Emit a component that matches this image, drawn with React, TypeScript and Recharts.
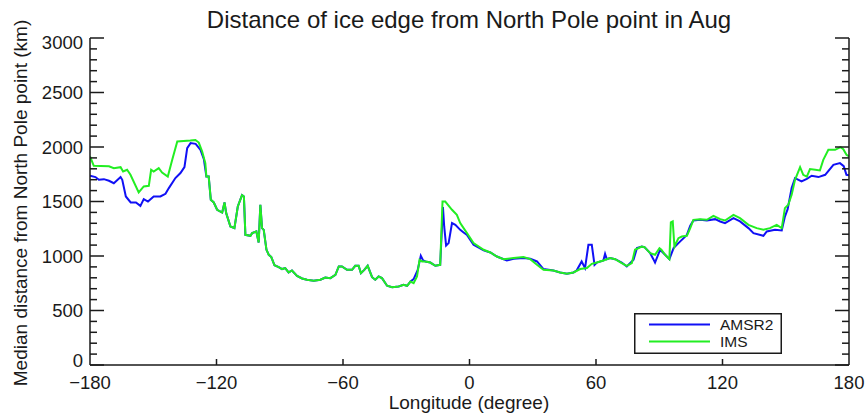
import { Legend, Line, LineChart, XAxis, YAxis } from "recharts";

// Median distance (km) of the August ice edge from the North Pole, by longitude.
const imsLon = [
  -180, -178.2, -175, -171, -168.7, -165.5, -164.3, -162.4, -160.8, -156.9, -154.5, -152.1, -151, -149.8,
  -147.4, -145.8, -143.1, -141, -138.6, -132.4, -130, -128.4, -126.8, -125.3,
  -124.8, -123.7, -122.7, -121.3, -119.7, -117.3, -116.2, -115.4, -114.5, -113.4, -111.5, -109.9, -107.9,
  -107, -106.3, -103.9, -103.1, -101.1, -100, -99.2, -98.4, -97.6, -96.3, -95.2, -94, -92.5, -90.5, -88.9,
  -87.4, -85.8, -84.2, -81.8, -79.4, -77.1, -73.9, -70.7, -68.4, -66, -63.6, -62, -60.5, -58.1, -55.7,
  -54.2, -52.6, -51.5, -49.9, -48.3, -46.2, -44.7, -43.1, -41.5, -39.1, -36.7, -33.6, -31.3, -29.6, -28,
  -26.5, -24.9, -23.7, -22.5, -20.9, -18.6, -16.2, -13.9, -12.8, -11.5, -8.3, -6, -4.4, -1.2, 1.9, 6.7,
  9.9, 13, 16.1, 20.9, 25.6, 28.8, 32, 35.1, 39.8, 43, 46.2, 49.3, 52.5, 55.7, 58, 60.4, 63.5, 66.7, 69.1,
  72.2, 74.6, 77, 78.5, 81.7, 83, 85.7, 88, 90.1, 91, 92.8, 94.8, 95.5, 96.4, 97.2, 99.1, 100.7, 103.1,
  104.7, 106.2, 109.4, 112.6, 115.7, 118.9, 121.2, 125.2, 128.3, 132.3, 136.2, 139.4, 142.5, 145.7, 148.1,
  149.6, 151.2, 152.8, 154.4, 156.8, 158.3, 160, 161.5, 164, 166.2, 167.8, 170.2, 173.4, 176, 177.3, 178.8, 180,
];
const imsKm = [
  1913, 1827, 1825, 1823, 1806, 1815, 1775, 1791, 1745, 1583, 1638, 1644, 1791, 1775,
  1806, 1766, 1729, 1882, 2050, 2060, 2065, 2041, 1958, 1852,
  1729, 1729, 1515, 1491, 1424, 1399, 1491, 1393, 1338, 1271, 1256, 1454, 1559,
  1545, 1194, 1185, 1210, 1225, 1124, 1470, 1256, 1240, 1057, 1011, 990, 915, 898, 880,
  889, 849, 867, 818, 794, 782, 772, 782, 803, 797, 827, 904, 904, 873, 873,
  910, 910, 843, 873, 910, 806, 782, 812, 797, 727, 714, 720, 735, 727, 766,
  751, 812, 965, 950, 950, 940, 910, 919, 1500, 1500, 1424, 1378, 1302, 1210, 1118, 1057,
  1032, 995, 971, 981, 990, 971, 919, 873, 867, 849, 837, 849, 880, 889, 928, 940, 959, 981, 971,
  935, 910, 935, 1057, 1087, 1081, 1026, 1011, 1072, 1057, 1011, 971, 1308, 1317, 1087, 1164, 1179, 1185,
  1256, 1332, 1338, 1332, 1369, 1338, 1326, 1378, 1347, 1286, 1256, 1240, 1256, 1286, 1256,
  1439, 1470, 1561, 1699, 1815, 1745, 1729, 1797, 1791, 1785, 1882, 1974, 1974, 1999, 1980, 1928, 1915,
];

const amsr2Lon = [
  -180, -177.4, -175.8, -173.4, -171, -168.7, -165.5, -164.7, -163, -160.7, -158.2, -156.1, -154.5, -152.5,
  -149.8, -146.6, -144.2, -142.6, -139.5, -137.1, -135.2, -133.9, -132.3, -129.9, -127.6, -126,
  -124.8, -123.7, -122.7, -121.3, -119.7, -117.3, -116.2, -115.4, -114.5, -113.4, -111.5, -109.9, -107.9,
  -107, -106.3, -103.9, -103.1, -101.1, -100, -99.2, -98.4, -97.6, -96.3, -95.2, -94, -92.5, -90.5, -88.9,
  -87.4, -85.8, -84.2, -81.8, -79.4, -77.1, -73.9, -70.7, -68.4, -66, -63.6, -62, -60.5, -58.1, -55.7,
  -54.2, -52.6, -51.5, -49.9, -48.3, -46.2, -44.7, -43.1, -41.5, -39.1, -36.7, -33.6, -31.3, -29.6, -28,
  -26.5, -24.6, -23.1, -22, -20.9, -18.6, -16.2, -13.9, -12.6, -12, -11.1, -9.9, -8.3, -6.7, -4.4, -2.8,
  -1.2, 1.9, 6.7, 9.9, 13, 17.7, 20.9, 25.6, 28.8, 32, 35.1, 39.8, 43, 46.2, 49.3, 50.8, 53.2, 54.8, 56.4,
  58, 59.3, 60.4, 63.5, 64.3, 65.1, 66.7, 69.1, 72.2, 74.6, 77.8, 79.4, 81.7, 83, 85.7, 87.2, 88, 90.4, 92.8,
  94.8, 96.8, 99.1, 103.1, 104.7, 106.2, 109.4, 112.6, 116.5, 118.9, 121.2, 125.2, 128.3, 132.3, 134.7,
  139.4, 141, 144.9, 148.1, 149.6, 150.9, 152.8, 154.4, 157.5, 160, 162.3, 165.5, 168.7, 172.6, 175.7,
  177.5, 178.8, 180,
];
const amsr2Km = [
  1736, 1724, 1699, 1705, 1690, 1668, 1724, 1699, 1546, 1491, 1491, 1460, 1522, 1500,
  1546, 1546, 1571, 1623, 1715, 1761, 1815, 1990, 2036, 2029, 1974, 1889,
  1729, 1729, 1515, 1491, 1424, 1399, 1491, 1393, 1338, 1271, 1256, 1454, 1559,
  1545, 1194, 1185, 1210, 1225, 1124, 1470, 1256, 1240, 1057, 1011, 990, 915, 898, 880,
  889, 849, 867, 818, 794, 782, 772, 782, 803, 797, 827, 904, 904, 873, 873,
  910, 910, 843, 873, 910, 806, 782, 812, 797, 727, 714, 720, 735, 727, 766,
  788, 870, 1002, 960, 950, 940, 910, 919, 1449, 1271, 1095, 1118, 1302, 1286, 1240, 1215,
  1194, 1103, 1051, 1032, 995, 959, 975, 981, 975, 950, 880, 867, 849, 837, 849, 867, 950, 889, 1103,
  1103, 919, 940, 959, 1020, 971, 981, 971, 940, 904, 965, 1072, 1087, 1081, 1026, 971, 940, 1057, 1011,
  971, 1072, 1118, 1194, 1277, 1326, 1332, 1326, 1338, 1317, 1302, 1347, 1317, 1256, 1210,
  1185, 1225, 1240, 1234, 1362, 1430, 1623, 1715, 1684, 1708, 1736, 1724, 1745, 1837, 1852,
  1824, 1745, 1740,
];

const lonTicks = [-180, -120, -60, 0, 60, 120, 180];
const kmTicks = [
  0, 100, 200, 300, 400, 500, 600, 700, 800, 900, 1000, 1100, 1200, 1300, 1400, 1500, 1600, 1700, 1800,
  1900, 2000, 2100, 2200, 2300, 2400, 2500, 2600, 2700, 2800, 2900, 3000,
];

const amsr2Data = amsr2Lon.map((lon, i) => ({ lon, km: amsr2Km[i] }));
const imsData = imsLon.map((lon, i) => ({ lon, km: imsKm[i] }));

const INK = "#1a1a1a";
const FONT = '"Liberation Sans", Arial, sans-serif';

const fmtLon = (v: number) => (v < 0 ? `\u2212${-v}` : `${v}`);

function LeftTick({ x, y, payload }: any) {
  const v = payload.value;
  const major = v % 500 === 0;
  const dy = v === 0 ? -5 : v === 3000 ? 4 : 0;
  return (
    <g>
      <line x1={x} x2={x + (major ? 14 : 7)} y1={y} y2={y} stroke={INK} strokeWidth={1.5} />
      {major && (
        <text x={x - 7} y={y + dy} textAnchor="end" dominantBaseline="central" fontSize={18.5} fill={INK} fontFamily={FONT}>
          {v}
        </text>
      )}
    </g>
  );
}

function RightTick({ x, y, payload }: any) {
  const major = payload.value % 500 === 0;
  return <line x1={x} x2={x - (major ? 14 : 7)} y1={y} y2={y} stroke={INK} strokeWidth={1.5} />;
}

function BottomTick({ x, y, payload }: any) {
  const v = payload.value;
  const edge = v === -180 || v === 180;
  return (
    <g>
      {!edge && <line x1={x} x2={x} y1={y} y2={y - 6} stroke={INK} strokeWidth={1.5} />}
      <text x={x} y={y + 24} textAnchor="middle" fontSize={18.5} fill={INK} fontFamily={FONT}>
        {fmtLon(v)}
      </text>
    </g>
  );
}

function TopTick({ x, y, payload }: any) {
  const v = payload.value;
  if (v === -180 || v === 180) return <g />;
  return <line x1={x} x2={x} y1={y} y2={y + 6} stroke={INK} strokeWidth={1.5} />;
}

function LegendBox({ payload }: any) {
  return (
    <svg width={148} height={41} style={{ display: "block" }}>
      <rect x={0.75} y={0.75} width={146.5} height={39.5} fill="#fff" stroke={INK} strokeWidth={1.5} />
      {(payload || []).map((p: any, i: number) => (
        <g key={p.value}>
          <line x1={15} x2={76} y1={11.5 + i * 17} y2={11.5 + i * 17} stroke={p.color} strokeWidth={2} />
          <text x={86} y={16.5 + i * 17} fontSize={15.5} fill={INK} fontFamily={FONT}>
            {p.value}
          </text>
        </g>
      ))}
    </svg>
  );
}

export default function App() {
  return (
    <div style={{ position: "absolute", left: 0, top: 0, width: 865, height: 414, background: "#fff", fontFamily: FONT }}>
      <LineChart width={865} height={414} margin={{ top: 38, right: 0, bottom: 0, left: 0 }}>
        <XAxis
          xAxisId="b"
          type="number"
          dataKey="lon"
          domain={[-180, 180]}
          ticks={lonTicks}
          interval={0}
          height={49}
          tickSize={0}
          tickMargin={0}
          tickLine={false}
          tick={<BottomTick />}
          axisLine={{ stroke: INK, strokeWidth: 1.5 }}
          allowDataOverflow
        />
        <XAxis
          xAxisId="t"
          orientation="top"
          type="number"
          dataKey="lon"
          domain={[-180, 180]}
          ticks={lonTicks}
          interval={0}
          height={0}
          tickSize={0}
          tickMargin={0}
          tickLine={false}
          tick={<TopTick />}
          axisLine={{ stroke: INK, strokeWidth: 1.5 }}
          allowDataOverflow
        />
        <YAxis
          yAxisId="l"
          type="number"
          domain={[0, 3000]}
          ticks={kmTicks}
          interval={0}
          width={90}
          tickSize={0}
          tickMargin={0}
          tickLine={false}
          tick={<LeftTick />}
          axisLine={{ stroke: INK, strokeWidth: 1.5 }}
          allowDataOverflow
        />
        <YAxis
          yAxisId="r"
          orientation="right"
          type="number"
          domain={[0, 3000]}
          ticks={kmTicks}
          interval={0}
          width={16}
          tickSize={0}
          tickMargin={0}
          tickLine={false}
          tick={<RightTick />}
          axisLine={{ stroke: INK, strokeWidth: 1.5 }}
          allowDataOverflow
        />
        <Legend
          layout="vertical"
          align="center"
          verticalAlign="middle"
          content={<LegendBox />}
          wrapperStyle={{ position: "absolute", left: 634, top: 313, width: 148, height: 41 }}
        />
        <Line
          data={amsr2Data}
          xAxisId="b"
          yAxisId="l"
          dataKey="km"
          name="AMSR2"
          stroke="#1010f5"
          strokeWidth={2}
          dot={false}
          isAnimationActive={false}
        />
        <Line
          data={imsData}
          xAxisId="b"
          yAxisId="l"
          dataKey="km"
          name="IMS"
          stroke="#22ee22"
          strokeWidth={2}
          dot={false}
          isAnimationActive={false}
        />
      </LineChart>
      <svg width={865} height={414} style={{ position: "absolute", left: 0, top: 0, pointerEvents: "none" }}>
        <text x={469} y={28} textAnchor="middle" fontSize={24} fill={INK} fontFamily={FONT}>
          Distance of ice edge from North Pole point in Aug
        </text>
        <text x={469} y={409} textAnchor="middle" fontSize={19} fill={INK} fontFamily={FONT}>
          Longitude (degree)
        </text>
        <text x={27} y={203} transform="rotate(-90 27 203)" textAnchor="middle" fontSize={19} fill={INK} fontFamily={FONT}>
          Median distance from North Pole point (km)
        </text>
      </svg>
    </div>
  );
}
